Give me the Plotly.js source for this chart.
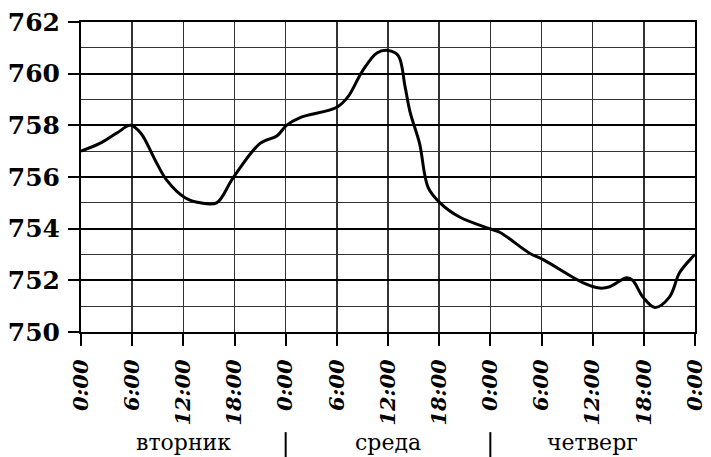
<!DOCTYPE html>
<html>
<head>
<meta charset="utf-8">
<script src="https://cdn.plot.ly/plotly-3.0.1.min.js"></script>
<style>html,body{margin:0;padding:0;background:#fff;}#chart{width:711px;height:457px;}</style>
</head>
<body>
<div id="chart"></div>
<script>
// Hours since Tuesday 0:00
var hours = [0, 2.2, 4.2, 5.8, 7, 8.7, 10, 12.2, 14, 15.9, 17.8, 21, 23, 24.1, 25.7, 30, 31.3, 33, 34.7, 36, 37.2, 38, 38.6, 39.7, 40.7, 42.1, 44.4, 47.9, 49.1, 52.6, 54.2, 58.9, 60.8, 62, 64, 64.7, 65.9, 67.3, 69, 70.2, 71.7, 72];
// Pressure, mm Hg
var pressure = [757, 757.3, 757.7, 758, 757.7, 756.65, 755.9, 755.2, 755.0, 755.0, 755.95, 757.3, 757.6, 758, 758.3, 758.7, 759.1, 760.1, 760.8, 760.9, 760.7, 759.5, 758.5, 757.3, 755.6, 755.0, 754.45, 754.0, 753.86, 753.05, 752.8, 751.9, 751.7, 751.75, 752.1, 752.0, 751.35, 750.95, 751.35, 752.3, 752.9, 753.0];
var tickHours = [0, 6, 12, 18, 24, 30, 36, 42, 48, 54, 60, 66, 72];
var tickLabels = ["0:00", "6:00", "12:00", "18:00", "0:00", "6:00", "12:00", "18:00", "0:00", "6:00", "12:00", "18:00", "0:00"];
var yTicks = [750, 752, 754, 756, 758, 760, 762];
var days = ["вторник", "среда", "четверг"];
var dayCenters = [12, 36, 60];
var daySeparators = [24, 48];

var SERIF = "DejaVu Serif";

var trace = {
  x: hours, y: pressure, type: 'scatter', mode: 'lines',
  line: {color: '#000', width: 3, shape: 'spline', smoothing: 1},
  hoverinfo: 'skip'
};

var annotations = days.map(function(d, i) {
  return {x: dayCenters[i], xref: 'x', y: -0.355, yref: 'paper', text: d, showarrow: false,
    xanchor: 'center', yanchor: 'middle',
    font: {family: SERIF, size: 22, color: '#000'}};
});
var shapes = daySeparators.map(function(s) {
  return {type: 'line', xref: 'x', yref: 'paper', x0: s, x1: s, y0: -0.323, y1: -0.405,
    line: {color: '#000', width: 2}};
});

var layout = {
  width: 711, height: 457,
  margin: {l: 81, r: 16, t: 22, b: 125},
  paper_bgcolor: '#fff', plot_bgcolor: '#fff',
  showlegend: false,
  font: {family: SERIF},
  xaxis: {
    range: [0, 72], tickmode: 'array', tickvals: tickHours, ticktext: tickLabels,
    tickangle: -90, ticks: 'outside', ticklen: 12, tickwidth: 2, tickcolor: '#000',
    ticklabelstandoff: 5,
    showgrid: true, gridcolor: '#333', gridwidth: 1.5,
    showline: true, mirror: true, linecolor: '#000', linewidth: 2,
    zeroline: false, fixedrange: true,
    tickfont: {family: SERIF, size: 21, color: '#000', weight: 'bold', style: 'italic'}
  },
  yaxis: {
    range: [750, 762], tickmode: 'array', tickvals: yTicks,
    ticks: 'outside', ticklen: 11, tickwidth: 2, tickcolor: '#000',
    ticklabelstandoff: 3,
    showgrid: true, gridcolor: '#000', gridwidth: 2,
    minor: {dtick: 1, showgrid: true, gridcolor: '#333', gridwidth: 1.3, ticks: ''},
    showline: true, mirror: true, linecolor: '#000', linewidth: 2,
    zeroline: false, fixedrange: true,
    tickfont: {family: SERIF, size: 25, color: '#000', weight: 'bold'}
  },
  annotations: annotations,
  shapes: shapes
};

Plotly.newPlot('chart', [trace], layout, {displayModeBar: false, staticPlot: true});
</script>
</body>
</html>
